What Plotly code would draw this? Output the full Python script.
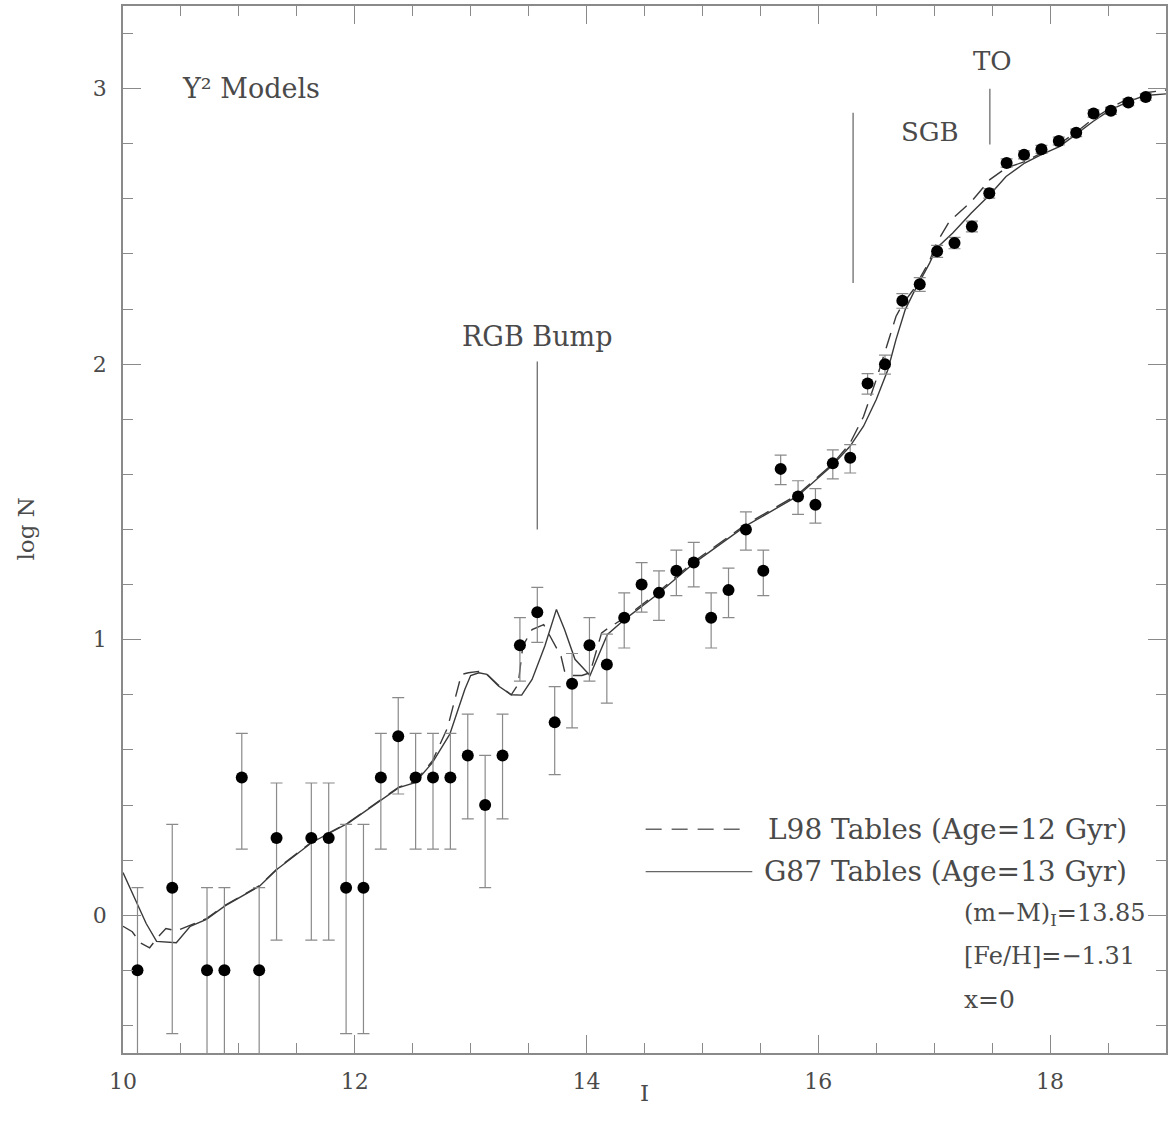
import plotly.graph_objects as go

# Observed luminosity function (bin centres, log N, asymmetric errors)
mag_obs = [10.125, 10.425, 10.725, 10.875, 11.025, 11.175, 11.325, 11.625, 11.775,
           11.925, 12.075, 12.225, 12.375, 12.525, 12.675, 12.825, 12.975, 13.125,
           13.275, 13.425, 13.575, 13.725, 13.875, 14.025, 14.175, 14.325, 14.475,
           14.625, 14.775, 14.925, 15.075, 15.225, 15.375, 15.525, 15.675, 15.825,
           15.975, 16.125, 16.275, 16.425, 16.575, 16.725, 16.875, 17.025, 17.175,
           17.325, 17.475, 17.625, 17.775, 17.925, 18.075, 18.225, 18.375, 18.525,
           18.675, 18.825]
logn_obs = [-0.20, 0.10, -0.20, -0.20, 0.50, -0.20, 0.28, 0.28, 0.28,
            0.10, 0.10, 0.50, 0.65, 0.50, 0.50, 0.50, 0.58, 0.40,
            0.58, 0.98, 1.10, 0.70, 0.84, 0.98, 0.91, 1.08, 1.20,
            1.17, 1.25, 1.28, 1.08, 1.18, 1.40, 1.25, 1.62, 1.52,
            1.49, 1.64, 1.66, 1.93, 2.00, 2.23, 2.29, 2.41, 2.44,
            2.50, 2.62, 2.73, 2.76, 2.78, 2.81, 2.84, 2.91, 2.92,
            2.95, 2.97]
err_up = [0.30, 0.23, 0.30, 0.30, 0.16, 0.30, 0.20, 0.20, 0.20,
          0.23, 0.23, 0.16, 0.14, 0.16, 0.16, 0.16, 0.15, 0.18,
          0.15, 0.10, 0.09, 0.13, 0.11, 0.10, 0.11, 0.09, 0.08,
          0.08, 0.075, 0.073, 0.09, 0.08, 0.064, 0.075, 0.05, 0.057,
          0.058, 0.049, 0.048, 0.036, 0.033, 0.026, 0.024, 0.021, 0.020,
          0.019, 0.017, 0.015, 0.014, 0.014, 0.014, 0.013, 0.012, 0.012,
          0.012, 0.012]
err_dn = [1.00, 0.53, 1.00, 1.00, 0.26, 1.00, 0.37, 0.37, 0.37,
          0.53, 0.53, 0.26, 0.21, 0.26, 0.26, 0.26, 0.23, 0.30,
          0.23, 0.13, 0.11, 0.19, 0.16, 0.13, 0.14, 0.11, 0.10,
          0.10, 0.09, 0.088, 0.11, 0.10, 0.075, 0.09, 0.057, 0.065,
          0.067, 0.056, 0.055, 0.039, 0.036, 0.027, 0.026, 0.022, 0.021,
          0.020, 0.017, 0.015, 0.015, 0.015, 0.014, 0.014, 0.013, 0.013,
          0.012, 0.012]

# G87 tables, age 13 Gyr (solid)
mag_g87 = [10.0, 10.1, 10.2, 10.29, 10.46, 10.58, 10.72, 10.88, 11.18, 11.33,
           11.63, 11.95, 12.24, 12.38, 12.52, 12.67, 12.82, 12.95, 13.0, 13.07,
           13.14, 13.24, 13.35, 13.44, 13.53, 13.64, 13.74, 13.81, 13.90, 14.03,
           14.10, 14.18, 14.33, 14.61, 14.93, 15.37, 15.82, 16.12, 16.27, 16.39,
           16.50, 16.60, 16.67, 16.75, 16.82, 16.96, 17.02, 17.16, 17.32, 17.48,
           17.62, 17.78, 17.92, 18.08, 18.22, 18.37, 18.52, 18.68, 18.82, 19.0]
logn_g87 = [0.155, 0.06, -0.03, -0.095, -0.10, -0.04, -0.015, 0.034, 0.106, 0.167,
            0.264, 0.336, 0.42, 0.463, 0.481, 0.554, 0.657, 0.82, 0.87, 0.88,
            0.874, 0.832, 0.80, 0.799, 0.856, 0.977, 1.11, 1.037, 0.929, 0.87,
            0.94, 1.019, 1.074, 1.164, 1.279, 1.412, 1.521, 1.632, 1.70, 1.775,
            1.872, 1.98, 2.089, 2.198, 2.258, 2.367, 2.421, 2.476, 2.549, 2.615,
            2.681, 2.73, 2.76, 2.79, 2.833, 2.881, 2.923, 2.954, 2.975, 2.981]

# L98 tables, age 12 Gyr (dashed)
mag_l98 = [10.0, 10.08, 10.15, 10.23, 10.30, 10.37, 10.46, 10.58, 10.72, 10.88,
           11.18, 11.33, 11.63, 11.95, 12.24, 12.38, 12.52, 12.67, 12.80, 12.92,
           12.98, 13.07, 13.14, 13.24, 13.35, 13.41, 13.45, 13.53, 13.63, 13.70,
           13.78, 13.81, 13.87, 13.96, 14.03, 14.13, 14.18, 14.33, 14.61, 14.93,
           15.37, 15.82, 16.12, 16.27, 16.39, 16.50, 16.59, 16.67, 16.73, 16.82,
           16.96, 17.02, 17.13, 17.32, 17.48, 17.62, 17.78, 17.92, 18.08, 18.22,
           18.37, 18.52, 18.68, 18.82, 19.0]
logn_l98 = [-0.04, -0.06, -0.10, -0.118, -0.08, -0.048, -0.057, -0.035, -0.012, 0.036,
            0.108, 0.169, 0.266, 0.338, 0.422, 0.465, 0.485, 0.56, 0.68, 0.874,
            0.88, 0.885, 0.875, 0.835, 0.80, 0.838, 0.977, 1.037, 1.055, 1.0,
            0.94, 0.886, 0.87, 0.87, 0.88, 1.025, 1.04, 1.08, 1.17, 1.285,
            1.417, 1.526, 1.637, 1.71, 1.81, 1.944, 2.065, 2.173, 2.22, 2.27,
            2.375, 2.44, 2.518, 2.59, 2.67, 2.712, 2.735, 2.765, 2.80, 2.84,
            2.89, 2.93, 2.965, 2.985, 2.995]

FONT = "DejaVu Serif"
TXT = "#4a4a4a"
AXC = "#8a8a8a"

fig = go.Figure()

fig.add_trace(go.Scatter(x=mag_l98, y=logn_l98, mode="lines",
                         line=dict(color="#3a3a3a", width=1.4, dash="16px,9px"),
                         showlegend=False))
fig.add_trace(go.Scatter(x=mag_g87, y=logn_g87, mode="lines",
                         line=dict(color="#3a3a3a", width=1.4),
                         showlegend=False))
fig.add_trace(go.Scatter(
    x=mag_obs, y=logn_obs, mode="markers",
    marker=dict(color="black", size=12, symbol="circle"),
    error_y=dict(type="data", symmetric=False, array=err_up, arrayminus=err_dn,
                 color="#8a8a8a", thickness=1.2, width=6),
    showlegend=False))

# Feature markers
for x0, y0, y1 in [(13.575, 1.40, 2.01), (16.30, 2.295, 2.913), (17.48, 2.797, 3.0)]:
    fig.add_shape(type="line", x0=x0, x1=x0, y0=y0, y1=y1,
                  line=dict(color="#777777", width=1.4))

# Key lines
fig.add_shape(type="line", x0=14.51, x1=15.39, y0=0.312, y1=0.312,
              line=dict(color="#666666", width=1.3, dash="16px,10px"))
fig.add_shape(type="line", x0=14.51, x1=15.43, y0=0.158, y1=0.158,
              line=dict(color="#666666", width=1.3))

notes = [
    dict(x=10.49, y=3.0, text="Y² Models", xanchor="left", size=27),
    dict(x=13.575, y=2.1, text="RGB Bump", xanchor="center", size=27),
    dict(x=16.96, y=2.844, text="SGB", xanchor="center", size=26),
    dict(x=17.50, y=3.10, text="TO", xanchor="center", size=26),
    dict(x=18.68, y=0.312, text="L98 Tables (Age=12 Gyr)", xanchor="right", size=28),
    dict(x=18.68, y=0.158, text="G87 Tables (Age=13 Gyr)", xanchor="right", size=28),
    dict(x=17.24, y=0.002, text="(m−M)<sub>I</sub>=13.85", xanchor="left", size=24),
    dict(x=17.24, y=-0.149, text="[Fe/H]=−1.31", xanchor="left", size=24),
    dict(x=17.24, y=-0.305, text="x=0", xanchor="left", size=25),
]
for n in notes:
    size = n.pop("size")
    fig.add_annotation(xref="x", yref="y", showarrow=False, yanchor="middle",
                       font=dict(family=FONT, size=size, color=TXT), **n)

# Axis titles
fig.add_annotation(xref="paper", yref="paper", x=0, y=0.5, xshift=-98,
                   xanchor="center", yanchor="middle",
                   text="log N", textangle=-90, showarrow=False,
                   font=dict(family=FONT, size=23, color=TXT))
fig.add_annotation(xref="paper", yref="paper", x=0.5, y=0, yshift=-40,
                   text="I", showarrow=False, xanchor="center", yanchor="middle",
                   font=dict(family=FONT, size=23, color=TXT))

axis_common = dict(showline=True, linecolor=AXC, linewidth=1.5, mirror="allticks",
                   ticks="inside", tickcolor=AXC, tickwidth=1.3, ticklen=18,
                   showgrid=False, zeroline=False,
                   tickfont=dict(family=FONT, size=22, color=TXT))

fig.update_xaxes(range=[10, 19], tick0=10, dtick=2, ticklabelstandoff=8,
                 minor=dict(ticks="inside", dtick=0.5, ticklen=10, tickcolor=AXC,
                            tickwidth=1.2, showgrid=False),
                 **axis_common)
fig.update_yaxes(range=[-0.5, 3.3], tick0=0, dtick=1, ticklabelstandoff=10,
                 minor=dict(ticks="inside", dtick=0.2, tick0=0, ticklen=10,
                            tickcolor=AXC, tickwidth=1.2, showgrid=False),
                 **axis_common)

fig.update_layout(width=1170, height=1138,
                  margin=dict(l=123, r=2, t=6, b=85),
                  plot_bgcolor="white", paper_bgcolor="white",
                  showlegend=False)

fig.write_html("out.html")
